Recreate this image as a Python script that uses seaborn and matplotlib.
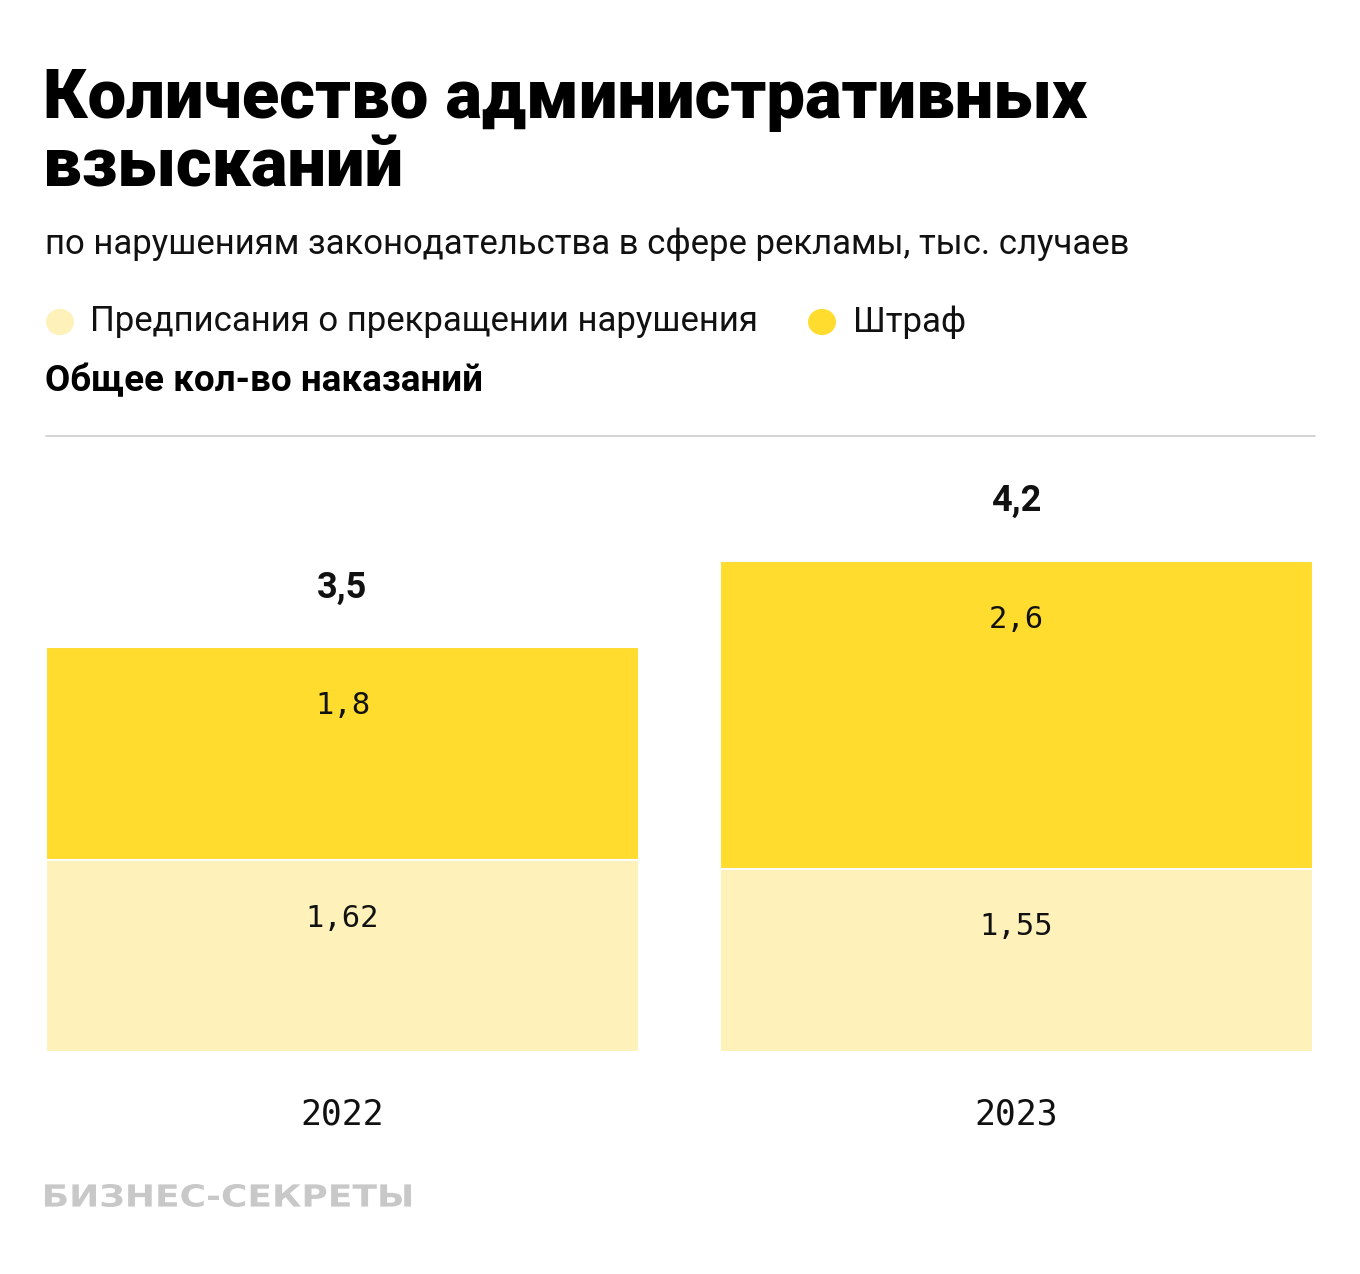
import matplotlib
matplotlib.use('Agg')
import matplotlib.pyplot as plt
from matplotlib.patches import Circle, PathPatch
from matplotlib.lines import Line2D
from matplotlib.textpath import TextPath
from matplotlib.font_manager import FontProperties
from matplotlib.transforms import Affine2D, IdentityTransform
import seaborn as sns

# data
years = ['2022', '2023']
orders = [1.62, 1.55]      # Предписания о прекращении нарушения
fines = [1.8, 2.6]         # Штраф
totals = [3.5, 4.2]        # Общее кол-во наказаний (as labelled)
order_labels = ['1,62', '1,55']
fine_labels = ['1,8', '2,6']
total_labels = ['3,5', '4,2']

LIGHT = '#FEF1B9'
YELLOW = '#FFDC2E'
SANS = ['Roboto', 'DejaVu Sans']
MONO = ['DejaVu Sans Mono', 'DejaVu Sans']

sns.set_style('white')
plt.rcParams['font.family'] = SANS

W, H = 1360, 1274
fig = plt.figure(figsize=(W / 100, H / 100), dpi=100)


def fx(px):
    return px / W


def fy(py):
    return 1 - py / H


ax = fig.add_axes([fx(46), fy(1052), fx(1313) - fx(46), fy(436) - fy(1052)])

stacked = [o + f for o, f in zip(orders, fines)]
sns.barplot(x=years, y=stacked, color=YELLOW, width=0.879, saturation=1,
            edgecolor='white', linewidth=1.5, ax=ax)
sns.barplot(x=years, y=orders, color=LIGHT, width=0.879, saturation=1,
            edgecolor='white', linewidth=1.5, ax=ax)

ax.set_xlim(-0.44, 1.44)
ax.set_ylim(0, 616 / 118.3)
sns.despine(ax=ax, left=True, bottom=True)
ax.set_yticks([])
ax.set_xlabel('')
ax.set_ylabel('')
ax.tick_params(axis='x', length=0, pad=33)
for lbl in ax.get_xticklabels():
    lbl.set_fontfamily(MONO)
    lbl.set_fontsize(25)
    lbl.set_color('#111111')

for i in range(len(years)):
    ax.annotate(order_labels[i], (i, orders[i]), xytext=(0, -58),
                textcoords='offset pixels', ha='center', va='center',
                fontsize=22, family=MONO, color='#111111')
    ax.annotate(fine_labels[i], (i, stacked[i]), xytext=(0, -58),
                textcoords='offset pixels', ha='center', va='center',
                fontsize=22, family=MONO, color='#111111')
    ax.annotate(total_labels[i], (i, stacked[i]), xytext=(0, 60),
                textcoords='offset pixels', ha='center', va='center',
                fontsize=26, family=SANS, fontweight='bold', color='#111111')

# header
fig.text(fx(43), fy(100), 'Количество административных', fontsize=49.5,
         fontweight='black', va='center', ha='left', color='black')
fig.text(fx(43), fy(168), 'взысканий', fontsize=49.5,
         fontweight='black', va='center', ha='left', color='black')
fig.text(fx(45), fy(244), 'по нарушениям законодательства в сфере рекламы, тыс. случаев',
         fontsize=25, va='center', ha='left', color='#111111')

# legend
for cx, col, txt, tx in [(60, LIGHT, 'Предписания о прекращении нарушения', 90),
                         (822, YELLOW, 'Штраф', 853)]:
    fig.patches.append(Circle((fx(cx), fy(322)), 14 / W, transform=fig.transFigure,
                              facecolor=col, edgecolor='none'))
    fig.text(fx(tx), fy(322), txt, fontsize=25, va='center', ha='left', color='#111111')

fig.text(fx(45), fy(381), 'Общее кол-во наказаний', fontsize=26.5,
         fontweight='bold', va='center', ha='left', color='black')

fig.add_artist(Line2D([fx(46), fx(1315)], [fy(436), fy(436)], color='#cccccc',
                      linewidth=1.2, transform=fig.transFigure))

# wide logo: stretch a text path to the logo box
logo = TextPath((0, 0), 'БИЗНЕС-СЕКРЕТЫ', size=20,
                prop=FontProperties(family='DejaVu Sans', weight='bold'))
ext = logo.get_extents()
tr = (Affine2D().translate(-ext.x0, -ext.y0)
      .scale(366 / ext.width, 23 / ext.height)
      .translate(45, H - 1207))
fig.add_artist(PathPatch(tr.transform_path(logo), facecolor='#c8c8c8',
                         edgecolor='none', transform=IdentityTransform()))

fig.savefig('out.png', dpi=100, facecolor='white')
